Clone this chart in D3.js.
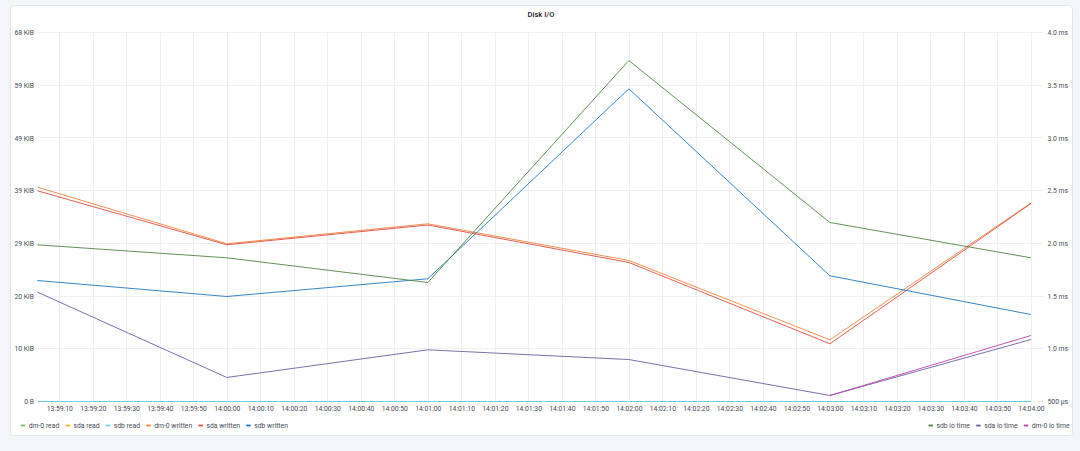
<!DOCTYPE html>
<html>
<head>
<meta charset="utf-8">
<script src="https://cdn.jsdelivr.net/npm/d3@7"></script>
<style>
  body { margin: 0; background: #f4f5f8; font-family: Roboto, "Noto Sans", sans-serif; }
  svg { display: block; }
</style>
</head>
<body>
<div id="chart"></div>
<script>
// sample times (first one is the left edge of the time range)
const times = ['13:59:03.500', '14:00:00.000', '14:01:00.000', '14:02:00.000', '14:03:00.000', '14:04:00.000'];
const rangeEnd = '14:04:03.600';

// bytes (left axis)
const dm0Read = [0, 0, 0, 0, 0, 0];
const sdaRead = [0, 0, 0, 0, 0, 0];
const sdbRead = [0, 0, 0, 0, 0, 0];
const dm0Written = [40650, 29920, 33710, 26750, 11700, 37650];
const sdaWritten = [39970, 29730, 33480, 26370, 10950, 37560];
const sdbWritten = [22950, 19920, 23280, 59320, 23850, 16500];

// milliseconds (right axis)
const sdbIoTime = [1.986, 1.863, 1.629, 3.734, 2.198, 1.863];
const sdaIoTime = [1.537, 0.728, 0.990, 0.898, 0.557, 1.088];
const dm0IoTime = [null, null, null, null, 0.557, 1.126];

const leftTicks = [0, 10000, 20000, 30000, 40000, 50000, 60000, 70000];
const rightTicks = [0.5, 1.0, 1.5, 2.0, 2.5, 3.0, 3.5, 4.0];

const series = [
  { name: 'dm-0 read', values: dm0Read, color: '#7EB26D', axis: 'left', legend: 'left' },
  { name: 'sda read', values: sdaRead, color: '#EAB839', axis: 'left', legend: 'left' },
  { name: 'sdb read', values: sdbRead, color: '#6ED0E0', axis: 'left', legend: 'left' },
  { name: 'dm-0 written', values: dm0Written, color: '#EF843C', axis: 'left', legend: 'left' },
  { name: 'sda written', values: sdaWritten, color: '#E24D42', axis: 'left', legend: 'left' },
  { name: 'sdb written', values: sdbWritten, color: '#1F78C1', axis: 'left', legend: 'left' },
  { name: 'sdb io time', values: sdbIoTime, color: '#508642', axis: 'right', legend: 'right' },
  { name: 'sda io time', values: sdaIoTime, color: '#705DA0', axis: 'right', legend: 'right' },
  { name: 'dm-0 io time', values: dm0IoTime, color: '#BA43A9', axis: 'right', legend: 'right' }
];

const width = 1080;
const height = 451;
const plot = { left: 37.5, right: 1043, top: 32.5, bottom: 401.5 };

const parseTime = d3.timeParse('%H:%M:%S.%L');
const dates = times.map(parseTime);

const svg = d3.select('#chart')
  .append('svg')
  .attr('width', width)
  .attr('height', height);

// panel
svg.append('rect')
  .attr('x', 10.5)
  .attr('y', 5.5)
  .attr('width', 1062)
  .attr('height', 430)
  .attr('rx', 3)
  .style('fill', '#ffffff')
  .style('stroke', '#e2e5ea');

svg.append('text')
  .attr('x', 541)
  .attr('y', 17)
  .attr('text-anchor', 'middle')
  .text('Disk I/O')
  .style('font-size', '7.6px')
  .style('font-weight', 500)
  .style('fill', '#202226');

const xScale = d3.scaleTime()
  .domain([dates[0], parseTime(rangeEnd)])
  .range([plot.left, plot.right]);

const yLeft = d3.scaleLinear()
  .domain([0, 70000])
  .range([plot.bottom, plot.top]);

const yRight = d3.scaleLinear()
  .domain([0.5, 4.0])
  .range([plot.bottom, plot.top]);

const xTicks = d3.timeSecond.every(10).range(parseTime('13:59:10.000'), parseTime('14:04:00.001'));

// grid
svg.append('g')
  .selectAll('line')
  .data(xTicks)
  .enter()
  .append('line')
  .attr('x1', d => Math.round(xScale(d)) + 0.5)
  .attr('x2', d => Math.round(xScale(d)) + 0.5)
  .attr('y1', plot.top)
  .attr('y2', plot.bottom)
  .style('stroke', '#efefef');

svg.append('g')
  .selectAll('line')
  .data(leftTicks)
  .enter()
  .append('line')
  .attr('x1', plot.left)
  .attr('x2', plot.right)
  .attr('y1', d => Math.floor(yLeft(d)) + 0.5)
  .attr('y2', d => Math.floor(yLeft(d)) + 0.5)
  .style('stroke', '#efefef');

// axes
const tickStyle = g => {
  g.select('.domain').remove();
  g.selectAll('text')
    .style('font-family', 'Roboto, sans-serif')
    .style('font-size', '6.8px')
    .style('fill', '#464c54');
};

svg.append('g')
  .attr('transform', `translate(${plot.left - 1},0)`)
  .call(d3.axisLeft(yLeft)
    .tickValues(leftTicks)
    .tickSize(0)
    .tickPadding(2.5)
    .tickFormat(d => d === 0 ? '0 B' : Math.round(d / 1024) + ' KiB'))
  .call(tickStyle);

svg.append('g')
  .attr('transform', `translate(${plot.right + 2},0)`)
  .call(d3.axisRight(yRight)
    .tickValues(rightTicks)
    .tickSize(0)
    .tickPadding(2.5)
    .tickFormat(d => d === 0.5 ? '500 µs' : d.toFixed(1) + ' ms'))
  .call(tickStyle);

svg.append('g')
  .attr('transform', `translate(0,${plot.bottom + 2.5})`)
  .call(d3.axisBottom(xScale)
    .tickValues(xTicks)
    .tickSize(0)
    .tickPadding(2.5)
    .tickFormat(d3.timeFormat('%H:%M:%S')))
  .call(tickStyle);

// lines
series.forEach(s => {
  const yScale = s.axis === 'left' ? yLeft : yRight;
  const flat = d3.max(s.values) === 0;
  const line = d3.line()
    .defined(d => d.v !== null)
    .x(d => xScale(d.t))
    .y(d => yScale(d.v));
  svg.append('path')
    .datum(s.values.map((v, i) => ({ t: dates[i], v })))
    .attr('d', line)
    .attr('shape-rendering', flat ? 'crispEdges' : null)
    .style('fill', 'none')
    .style('stroke', s.color)
    .style('stroke-width', flat ? 1.5 : 0.9);
});

// legend
const legendY = 425.5;
const drawLegend = (items, startX, alignRight) => {
  const g = svg.append('g');
  let x = 0;
  items.forEach(s => {
    g.append('rect')
      .attr('x', x)
      .attr('y', legendY - 0.9)
      .attr('width', 4.5)
      .attr('height', 1.8)
      .style('fill', s.color);
    const t = g.append('text')
      .attr('x', x + 8)
      .attr('y', legendY)
      .attr('dy', '0.34em')
      .text(s.name)
      .style('font-size', '6.8px')
      .style('fill', '#464c54');
    x += 8 + t.node().getComputedTextLength() + 6.2;
  });
  const total = x - 6.2;
  g.attr('transform', `translate(${alignRight ? startX - total : startX},0)`);
};

drawLegend(series.filter(s => s.legend === 'left'), 20.7, false);
drawLegend(series.filter(s => s.legend === 'right'), 1069.6, true);
</script>
</body>
</html>
